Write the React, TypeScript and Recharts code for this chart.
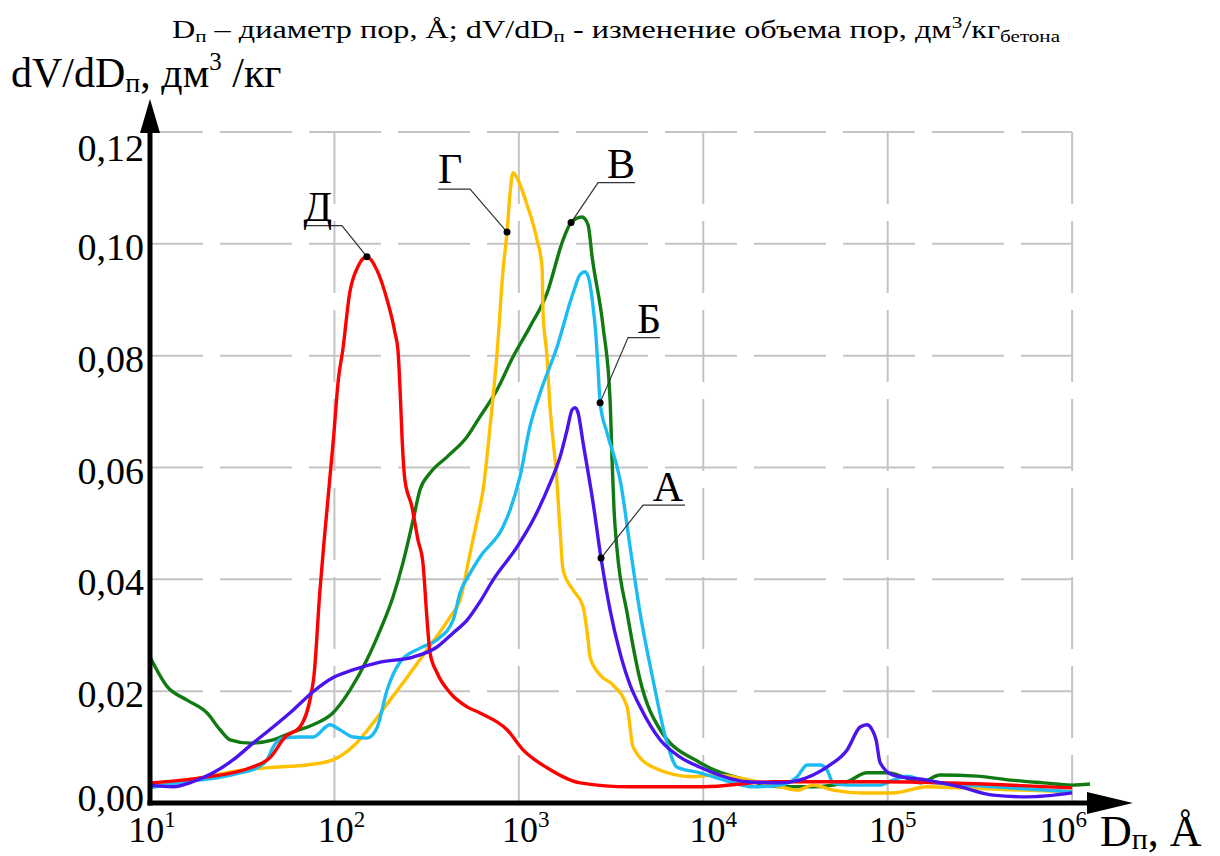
import { LineChart, Line, XAxis, YAxis, ReferenceDot } from "recharts";

// pore size distribution curves: [diameter, Å ; dV/dD, dm3/kg]
const curveA: [number, number][] = [
  [10, 0.0032], [13.3, 0.0029], [17.1, 0.0038], [22, 0.0054], [28.2, 0.0077], [36.2, 0.0107],
  [46.5, 0.0136], [59.6, 0.0166], [76.6, 0.0199], [98, 0.0224], [126, 0.0238], [177, 0.0252],
  [267, 0.0261], [360, 0.0279], [440, 0.0304], [524, 0.0327], [616, 0.036], [725, 0.0399],
  [978, 0.0458], [1194, 0.0506], [1476, 0.0572], [1673, 0.0619], [1826, 0.0667], [1943, 0.0703],
  [2018, 0.0707], [2094, 0.0698], [2230, 0.0644], [2526, 0.0537], [2790, 0.0438], [3124, 0.0345],
  [3539, 0.0268], [4010, 0.0211], [4544, 0.0172], [5833, 0.0113], [7486, 0.0082], [9610, 0.0064],
  [17290, 0.0038], [26100, 0.0036], [39400, 0.005], [48700, 0.0068], [60260, 0.0095], [70900, 0.0136],
  [77300, 0.014], [82300, 0.0131], [86500, 0.0113], [91000, 0.0072], [107000, 0.005], [163600, 0.0041],
  [247000, 0.0029], [373100, 0.0014], [570200, 0.0011], [1000000, 0.0018],
];

const curveB: [number, number][] = [
  [10, 0.0027], [15.1, 0.0038], [23.1, 0.0045], [30.8, 0.0054], [38, 0.0063], [43.1, 0.0077],
  [46.5, 0.01], [52.6, 0.0116], [65, 0.0118], [76.6, 0.0118], [94.6, 0.014], [107, 0.0131],
  [126, 0.0118], [150, 0.0116], [170, 0.0134], [193, 0.0202], [227, 0.0252], [291, 0.0277],
  [360, 0.0292], [440, 0.0327], [480, 0.0376], [544, 0.0411], [616, 0.044], [821, 0.0494],
  [896, 0.0524], [1015, 0.0584], [1150, 0.0674], [1303, 0.0733], [1612, 0.0816], [1968, 0.0912],
  [2148, 0.0945], [2286, 0.095], [2380, 0.0941], [2500, 0.09], [2620, 0.0835], [2690, 0.0775],
  [2757, 0.0716], [3008, 0.0662], [3408, 0.0601], [3539, 0.0578], [4010, 0.0458], [4544, 0.034],
  [5343, 0.022], [6365, 0.0107], [7210, 0.0064], [9610, 0.0054], [13990, 0.0038], [18620, 0.0029],
  [26100, 0.0032], [32300, 0.0047], [36550, 0.0068], [43000, 0.0068], [46900, 0.0059], [50600, 0.0036],
  [60300, 0.0032], [91000, 0.0032], [107000, 0.0041], [127500, 0.0048], [163600, 0.0038],
  [373100, 0.0029], [1000000, 0.002],
];

const curveV: [number, number][] = [
  [10, 0.0261], [12.4, 0.0208], [15.9, 0.0184], [20.4, 0.0161], [24, 0.0131], [27.2, 0.0113],
  [35, 0.0107], [46.5, 0.0113], [59.6, 0.0127], [76.6, 0.014], [98, 0.0161], [121.5, 0.0202],
  [150, 0.0256], [177, 0.0309], [208, 0.0369], [235, 0.0429], [267, 0.0506], [291, 0.056],
  [330, 0.059], [408, 0.0619], [524, 0.0655], [616, 0.0691], [762, 0.0739], [930, 0.0798],
  [1150, 0.0852], [1422, 0.0912], [1737, 0.1007], [1919, 0.1038], [2202, 0.1048], [2373, 0.1034],
  [2500, 0.0975], [2862, 0.0852], [3124, 0.0721], [3201, 0.0614], [3282, 0.0524], [3408, 0.0453],
  [3863, 0.034], [4544, 0.022], [5833, 0.0131], [9610, 0.0072], [17290, 0.0041], [26100, 0.0029],
  [39400, 0.0029], [60260, 0.0038], [77300, 0.0054], [99200, 0.0054], [121200, 0.0047],
  [149900, 0.0036], [192400, 0.005], [305300, 0.0048], [461300, 0.0041], [696300, 0.0036],
  [1000000, 0.0032], [1250000, 0.0034],
];

const curveG: [number, number][] = [
  [10, 0.0032], [18.7, 0.0045], [32, 0.0059], [46.5, 0.0064], [71, 0.0068], [98, 0.0077],
  [129, 0.0104], [162, 0.0143], [200, 0.0184], [248, 0.0225], [318, 0.0274], [424, 0.0333],
  [480, 0.0363], [544, 0.0447], [594, 0.0506], [640, 0.056], [698, 0.0673], [762, 0.0805],
  [821, 0.0953], [863, 0.1021], [896, 0.1091], [930, 0.1127], [990, 0.1114], [1108, 0.107],
  [1255, 0.1007], [1336, 0.0959], [1353, 0.0877], [1422, 0.0798], [1476, 0.0708], [1533, 0.0649],
  [1591, 0.0596], [1673, 0.0488], [1737, 0.0417], [1968, 0.0381], [2230, 0.0351], [2373, 0.0292],
  [2433, 0.0261], [2757, 0.0229], [3243, 0.0211], [3863, 0.0172], [4163, 0.01], [5343, 0.0064],
  [8806, 0.0047], [11300, 0.005], [26100, 0.0029], [32300, 0.0023], [39400, 0.0032], [50600, 0.0023],
  [73600, 0.0018], [107000, 0.0018], [163600, 0.0029], [247000, 0.0027], [1000000, 0.002],
];

const curveD: [number, number][] = [
  [10, 0.0036], [18.7, 0.0045], [35, 0.0063], [45, 0.0082], [54, 0.0118], [65, 0.0136],
  [77, 0.022], [83.5, 0.0381], [88, 0.047], [99, 0.0655], [105, 0.0757], [111, 0.081],
  [121, 0.0912], [134, 0.0959], [150, 0.0977], [170, 0.0953], [193, 0.09], [213, 0.0841],
  [221, 0.081], [227, 0.0739], [233, 0.0649], [241, 0.0578], [263, 0.053], [284, 0.047],
  [302, 0.0429], [318, 0.0327], [330, 0.0268], [360, 0.0233], [424, 0.0197], [524, 0.0172],
  [616, 0.0161], [863, 0.0131], [1054, 0.0095], [1422, 0.0063], [2150, 0.0036], [4010, 0.0029],
  [9975, 0.0029], [23900, 0.0038], [91000, 0.0038], [1000000, 0.0027],
];

const xTicks = [10, 100, 1000, 10000, 100000, 1000000];
const yTicks = [0, 0.02, 0.04, 0.06, 0.08, 0.1, 0.12];

const FONT = '"Liberation Serif", "Times New Roman", serif';

const toPoints = (rows: [number, number][]) => rows.map(([d, v]) => ({ d, v }));

const series = [
  { key: "V", rows: curveV, color: "#127a12" },
  { key: "G", rows: curveG, color: "#ffc000" },
  { key: "B", rows: curveB, color: "#1cbcf2" },
  { key: "D", rows: curveD, color: "#ff0000" },
  { key: "A", rows: curveA, color: "#4a14ee" },
];

// dashed grid as two-point segments: rows end at 10^6, columns span the value range
const yMax = yTicks[yTicks.length - 1];
const gridRows = yTicks.slice(1).map((v) => [{ d: xTicks[0], v }, { d: xTicks[xTicks.length - 1], v }]);
const gridCols = xTicks.slice(1).map((d) => [{ d, v: yMax }, { d, v: 0 }]);

// letter callouts: point on the curve, elbow of the leader, end of the underline, letter position
const callouts = [
  { name: "Д", rows: curveD, d: 150, elbow: [-25, -31], end: -63, text: [-49, -36] },
  { name: "Г", rows: curveG, d: 863, elbow: [-37, -43], end: -69, text: [-57, -49] },
  { name: "В", rows: curveV, d: 1919, elbow: [27, -40], end: 64, text: [50, -45] },
  { name: "Б", rows: curveB, d: 2757, elbow: [28, -65], end: 60, text: [49, -70] },
  { name: "А", rows: curveA, d: 2790, elbow: [42, -53], end: 84, text: [67, -57] },
];

// hand-placed nudges of the power labels
const xTickShift: Record<number, number> = { 1: 2, 2: 7, 3: 7, 4: 10, 5: 5, 6: -9 };

const GRID = "#c4c4c4";

const XTick = ({ x, y, payload }: any) => {
  const exp = Math.round(Math.log10(payload.value));
  return (
    <text x={x + (xTickShift[exp] ?? 0)} y={y + 39} textAnchor="middle" fontFamily={FONT} fontSize={36} fill="#000">
      <tspan>10</tspan>
      <tspan fontSize={23} dy={-15}>{exp}</tspan>
    </text>
  );
};

const YTick = ({ x, y, payload }: any) => {
  const v = payload.value;
  const dy = v >= 0.12 ? 29 : v === 0 ? 8 : 16;
  return (
    <text x={x - 6} y={y + dy} textAnchor="end" fontFamily={FONT} fontSize={38} fill="#000">
      {v.toFixed(2).replace(".", ",")}
    </text>
  );
};

const Callout = ({ cx, cy, item }: any) => {
  const [ex, ey] = item.elbow;
  return (
    <g>
      <polyline
        points={`${cx},${cy} ${cx + ex},${cy + ey} ${cx + item.end},${cy + ey}`}
        fill="none"
        stroke="#333"
        strokeWidth={1.2}
      />
      <circle cx={cx} cy={cy} r={3.5} fill="#000" />
      <text x={cx + item.text[0]} y={cy + item.text[1]} textAnchor="middle" fontFamily={FONT} fontSize={42} fill="#000">
        {item.name}
      </text>
    </g>
  );
};

export default function App() {
  return (
    <div style={{ position: "absolute", left: 0, top: 0, width: 1220, height: 856, background: "#fff" }}>
      <svg width={1220} height={856} style={{ position: "absolute", left: 0, top: 0, pointerEvents: "none", zIndex: 2 }}>
        <defs>
          <marker id="arrowX" markerUnits="userSpaceOnUse" markerWidth={46} markerHeight={22} refX={3} refY={11} orient="auto" style={{ overflow: "visible" }}>
            <path d="M0,0 L46,11 L0,22 Z" fill="#000" />
          </marker>
          <marker id="arrowY" markerUnits="userSpaceOnUse" markerWidth={34} markerHeight={20} refX={1} refY={10} orient="auto-start-reverse" style={{ overflow: "visible" }}>
            <path d="M0,0 L34,10 L0,20 Z" fill="#000" />
          </marker>
        </defs>
        <text x={172} y={38} fontFamily={FONT} fontSize={26} fill="#000" textLength={888} lengthAdjust="spacingAndGlyphs">
          D<tspan fontSize={17} dy={4}>п</tspan>
          <tspan dy={-4}> – диаметр пор, Å; dV/dD</tspan>
          <tspan fontSize={17} dy={4}>п</tspan>
          <tspan dy={-4}>  - изменение объема пор, дм</tspan>
          <tspan fontSize={17} dy={-10}>3</tspan>
          <tspan dy={10}>/кг</tspan>
          <tspan fontSize={17} dy={4}>бетона</tspan>
        </text>
        <text x={11} y={87} fontFamily={FONT} fontSize={42} fill="#000">
          dV/dD<tspan fontSize={28} dy={5}>п</tspan>
          <tspan dy={-5}>, дм</tspan>
          <tspan fontSize={25} dy={-17}>3</tspan>
          <tspan dy={17}> /кг</tspan>
        </text>
        <text x={1100} y={846} fontFamily={FONT} fontSize={44} fill="#000">
          D<tspan fontSize={30} dy={3}>п</tspan>
          <tspan dy={-3}>, Å</tspan>
        </text>
      </svg>
      <LineChart width={1220} height={856} margin={{ top: 132, right: 130, bottom: 0, left: 10 }}>
        <XAxis
          dataKey="d"
          type="number"
          scale="log"
          domain={[10, 1250000]}
          ticks={xTicks}
          height={53}
          tickLine={false}
          tickSize={0}
          tickMargin={0}
          tick={<XTick />}
          axisLine={{ stroke: "#000", strokeWidth: 5, strokeLinecap: "square", markerEnd: "url(#arrowX)" }}
        />
        <YAxis
          type="number"
          domain={[0, 0.12]}
          ticks={yTicks}
          width={140}
          tickLine={false}
          tickSize={0}
          tickMargin={0}
          tick={<YTick />}
          axisLine={{ stroke: "#000", strokeWidth: 5, strokeLinecap: "square", markerStart: "url(#arrowY)" }}
        />
        {gridRows.map((pts, i) => (
          <Line
            key={`gr${i}`}
            data={pts}
            dataKey="v"
            type="linear"
            stroke={GRID}
            strokeWidth={2}
            strokeDasharray="72 17"
            strokeDashoffset={19}
            dot={false}
            activeDot={false}
            isAnimationActive={false}
          />
        ))}
        {gridCols.map((pts, i) => (
          <Line
            key={`gc${i}`}
            data={pts}
            dataKey="v"
            type="linear"
            stroke={GRID}
            strokeWidth={2}
            strokeDasharray="72 17"
            dot={false}
            activeDot={false}
            isAnimationActive={false}
          />
        ))}
        {series.map((s) => (
          <Line
            key={s.key}
            data={toPoints(s.rows)}
            dataKey="v"
            type="monotone"
            stroke={s.color}
            strokeWidth={3.4}
            dot={false}
            activeDot={false}
            isAnimationActive={false}
          />
        ))}
        {callouts.map((c) => {
          const v = c.rows.find(([d]) => d === c.d)![1];
          return (
            <ReferenceDot
              key={c.name}
              x={c.d}
              y={v}
              r={3.5}
              shape={(props: any) => <Callout {...props} item={c} />}
            />
          );
        })}
      </LineChart>
    </div>
  );
}
